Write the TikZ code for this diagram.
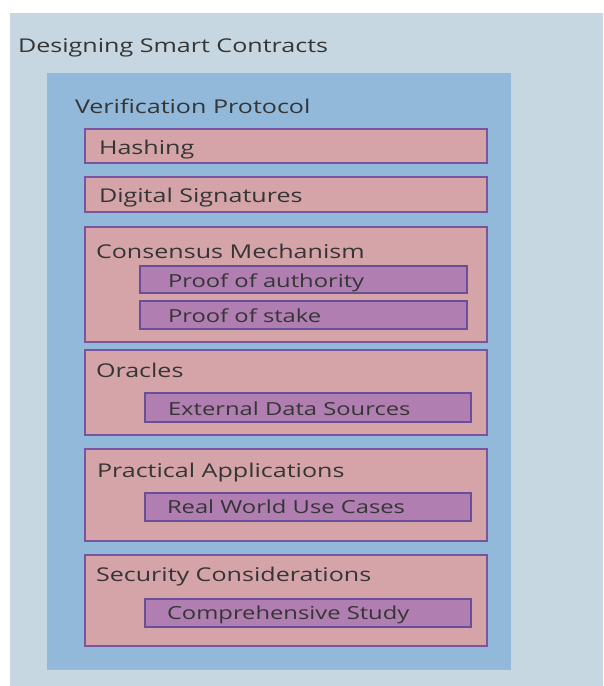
\documentclass[tikz,border=0pt]{standalone}
\usepackage{fontspec}
\setmainfont{Open Sans}[FakeStretch=1.32]
\usepackage{xcolor}
\definecolor{dsouter}{HTML}{C6D7E1}
\definecolor{dsinner}{HTML}{92B9DA}
\definecolor{dspink}{HTML}{D4A4A8}
\definecolor{dspinkline}{HTML}{7A559F}
\definecolor{dspurple}{HTML}{B07EB1}
\definecolor{dspurpleline}{HTML}{6A4E97}
\definecolor{dstext}{HTML}{353535}
\usetikzlibrary{positioning, calc}

\begin{document}
\begin{tikzpicture}[x=1pt, y=-1pt,
  every node/.style={inner sep=0pt, outer sep=0pt},
  panel/.style={anchor=north west, draw=none},
  topic/.style={anchor=north west, draw=dspinkline, fill=dspink, line width=1.2pt},
  subtopic/.style={anchor=north west, draw=dspurpleline, fill=dspurple, line width=1.2pt},
  caption/.style={anchor=base west, text=dstext, font=\fontsize{19}{22}\selectfont},
  subcaption/.style={anchor=base west, text=dstext, font=\fontsize{18}{21}\selectfont}]

\useasboundingbox (0,0) rectangle (603,686);

% Background panels
\node[panel, fill=dsouter, minimum width=593, minimum height=673] (contracts) at (10,13) {};
\node[caption] (contractsTitle) at (18,52) {Designing Smart Contracts};

\node[panel, fill=dsinner, minimum width=464, minimum height=597] (protocol) at (47,73) {};
\node[caption] (protocolTitle) at (75,113) {Verification Protocol};

% --- Single topics ---
\node[topic, minimum width=402, minimum height=34] (hashing) at (85,129) {};
\node[caption] (hashingTitle) at (99,154) {Hashing};

\node[topic, minimum width=402, minimum height=35] (signatures) at (85,177) {};
\node[caption] (signaturesTitle) at (99,202) {Digital Signatures};

% --- Consensus ---
\node[topic, minimum width=402, minimum height=115] (consensus) at (85,227) {};
\node[caption] (consensusTitle) at (96,258) {Consensus Mechanism};
\node[subtopic, minimum width=327, minimum height=27] (authority) at (140,266) {};
\node[subcaption] (authorityTitle) at (168,287) {Proof of authority};
\node[subtopic, minimum width=327, minimum height=28] (stake) at (140,301) {};
\node[subcaption] (stakeTitle) at (168,322) {Proof of stake};

% --- Oracles ---
\node[topic, minimum width=402, minimum height=85] (oracles) at (85,350) {};
\node[caption] (oraclesTitle) at (96,377) {Oracles};
\node[subtopic, minimum width=326, minimum height=29] (sources) at (145,393) {};
\node[subcaption] (sourcesTitle) at (168,415) {External Data Sources};

% --- Practical Applications ---
\node[topic, minimum width=402, minimum height=92] (practical) at (85,449) {};
\node[caption] (practicalTitle) at (97,477) {Practical Applications};
\node[subtopic, minimum width=326, minimum height=28] (usecases) at (145,493) {};
\node[subcaption] (usecasesTitle) at (167,513) {Real World Use Cases};

% --- Security ---
\node[topic, minimum width=402, minimum height=91] (security) at (85,555) {};
\node[caption] (securityTitle) at (96,581) {Security Considerations};
\node[subtopic, minimum width=326, minimum height=28] (study) at (145,599) {};
\node[subcaption] (studyTitle) at (167,619) {Comprehensive Study};

\end{tikzpicture}
\end{document}
